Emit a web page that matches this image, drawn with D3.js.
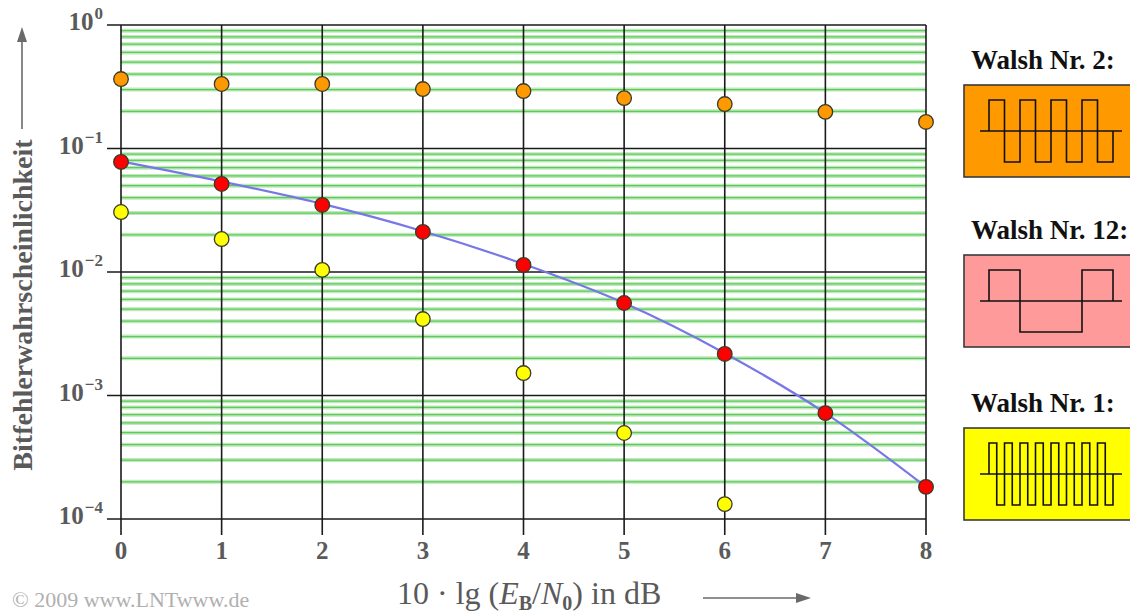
<!DOCTYPE html>
<html>
<head>
<meta charset="utf-8">
<script src="https://cdn.jsdelivr.net/npm/d3@7"></script>
<style>
  html, body { margin: 0; padding: 0; background: #fff; }
  svg { display: block; }
  text { font-family: "Liberation Serif", "DejaVu Serif", serif; }
</style>
</head>
<body>
<svg id="chart" width="1130" height="613"></svg>
<script>
// Eb/N0 in dB
const snrDb = [0, 1, 2, 3, 4, 5, 6, 7, 8];
// Bit error probability for each spreading sequence
const berWalsh2  = [0.365, 0.333, 0.333, 0.303, 0.292, 0.256, 0.229, 0.198, 0.164];
const berWalsh12 = [0.0778, 0.0516, 0.0349, 0.0211, 0.0114, 0.00561, 0.00217, 0.00072, 0.000182];
const berWalsh1  = [0.0306, 0.0185, 0.0104, 0.00416, 0.00152, 0.000497, 0.000132];
// Reference curve (AWGN without interference)
const berTheory  = [0.0786, 0.0540, 0.0356, 0.0214, 0.0116, 0.0056, 0.0022, 0.00072, 0.000182];
// Axis ticks
const xTicks = [0, 1, 2, 3, 4, 5, 6, 7, 8];
const yDecades = [0, -1, -2, -3, -4];
// Chip sequences shown in the legend
const chipsWalsh2  = [1, -1, 1, -1, 1, -1, 1, -1];
const chipsWalsh12 = [1, 1, -1, -1, -1, -1, 1, 1];
const chipsWalsh1  = [1, -1, 1, -1, 1, -1, 1, -1, 1, -1, 1, -1, 1, -1, 1, -1];

const svg = d3.select("#chart");
const x = d3.scaleLinear().domain([0, 8]).range([121, 926]);
const y = d3.scaleLog().domain([1e-4, 1]).range([519, 25]);

const gridG = svg.append("g");

// Minor (green) grid lines
const minor = [];
for (let k = -4; k < 0; k++) for (let m = 2; m <= 9; m++) minor.push(m * Math.pow(10, k));
gridG.selectAll("line.halo").data(minor).join("line")
  .attr("x1", x(0)).attr("x2", x(8))
  .attr("y1", d => y(d)).attr("y2", d => y(d))
  .attr("stroke", "#bfe9bb").attr("stroke-width", 4);
gridG.selectAll("line.minor").data(minor).join("line")
  .attr("x1", x(0)).attr("x2", x(8))
  .attr("y1", d => y(d)).attr("y2", d => y(d))
  .attr("stroke", "#5ccb5c").attr("stroke-width", 1.3);

// Decade lines with tick stubs to the left
gridG.selectAll("line.dec").data(yDecades).join("line")
  .attr("x1", x(0) - 14).attr("x2", x(8))
  .attr("y1", d => y(Math.pow(10, d))).attr("y2", d => y(Math.pow(10, d)))
  .attr("stroke", "#1a1a1a").attr("stroke-width", 1.6);

// Vertical lines with tick stubs below
gridG.selectAll("line.vert").data(xTicks).join("line")
  .attr("x1", d => x(d)).attr("x2", d => x(d))
  .attr("y1", y(1)).attr("y2", y(1e-4) + 16)
  .attr("stroke", "#1a1a1a").attr("stroke-width", 1.6);

// Y tick labels 10^k
const yl = svg.append("g").attr("fill", "#5a5a5a").attr("font-weight", "bold");
yDecades.forEach(k => {
  const t = yl.append("text")
    .attr("x", 103).attr("y", y(Math.pow(10, k)) + 5)
    .attr("text-anchor", "end").attr("font-size", 25);
  t.append("tspan").text("10");
  t.append("tspan").attr("dy", -11).attr("dx", 1).attr("font-size", 17).text(k === 0 ? "0" : "\u2212" + Math.abs(k));
});

// X tick labels
svg.append("g").selectAll("text").data(xTicks).join("text")
  .attr("x", d => x(d)).attr("y", 559)
  .attr("text-anchor", "middle").attr("font-size", 25).attr("font-weight", "bold")
  .attr("fill", "#5a5a5a").text(d => d);

// Reference curve
const curve = d3.line()
  .x((d, i) => x(snrDb[i]))
  .y(d => y(d))
  .curve(d3.curveMonotoneX);
svg.append("path").datum(berTheory)
  .attr("d", curve).attr("fill", "none")
  .attr("stroke", "#7777e6").attr("stroke-width", 2.2);

// Measured points
function dots(data, color) {
  svg.append("g").selectAll("circle").data(data).join("circle")
    .attr("cx", (d, i) => x(snrDb[i])).attr("cy", d => y(d)).attr("r", 7.3)
    .attr("fill", color).attr("stroke", "#3a3a2a").attr("stroke-width", 1.3);
}
dots(berWalsh2, "#ff9900");
dots(berWalsh12, "#ff0000");
dots(berWalsh1, "#ffff00");

// Y axis title and arrow
svg.append("text")
  .attr("transform", "translate(32,305) rotate(-90)")
  .attr("text-anchor", "middle").attr("font-size", 28).attr("font-weight", "bold")
  .attr("fill", "#5a5a5a").text("Bitfehlerwahrscheinlichkeit");
svg.append("line").attr("x1", 22).attr("x2", 22).attr("y1", 129).attr("y2", 40)
  .attr("stroke", "#6a6a6a").attr("stroke-width", 1.6);
svg.append("path").attr("d", "M22,27 L17,42 L27,42 Z").attr("fill", "#6a6a6a");

// X axis title and arrow
const xt = svg.append("text").attr("x", 397).attr("y", 604)
  .attr("font-size", 32).attr("fill", "#5a5a5a");
xt.append("tspan").text("10 \u00b7 lg (");
xt.append("tspan").attr("font-style", "italic").text("E");
xt.append("tspan").attr("font-size", 20).attr("font-weight", "bold").attr("dy", 6).text("B");
xt.append("tspan").attr("dy", -6).text("/");
xt.append("tspan").attr("font-style", "italic").text("N");
xt.append("tspan").attr("font-size", 20).attr("font-weight", "bold").attr("dy", 6).text("0");
xt.append("tspan").attr("dy", -6).text(") in dB");
svg.append("line").attr("x1", 703).attr("x2", 798).attr("y1", 598).attr("y2", 598)
  .attr("stroke", "#6a6a6a").attr("stroke-width", 1.6);
svg.append("path").attr("d", "M811,598 L796,593 L796,603 Z").attr("fill", "#6a6a6a");

// Copyright
svg.append("text").attr("x", 12).attr("y", 607).attr("font-size", 22)
  .attr("fill", "#b0b0b0").text("\u00a9 2009 www.LNTwww.de");

// Legend: spreading sequences
const legend = [
  { title: "Walsh Nr. 2:",  fill: "#ff9900", chips: chipsWalsh2,  ty: 69,  top: 85 },
  { title: "Walsh Nr. 12:", fill: "#ff9a9a", chips: chipsWalsh12, ty: 239, top: 255 },
  { title: "Walsh Nr. 1:",  fill: "#ffff00", chips: chipsWalsh1,  ty: 412, top: 428 }
];
legend.forEach(L => {
  const g = svg.append("g");
  g.append("text").attr("x", 971).attr("y", L.ty).attr("font-size", 27)
    .attr("font-weight", "bold").attr("fill", "#111").text(L.title);
  g.append("rect").attr("x", 964).attr("y", L.top).attr("width", 180).attr("height", 92)
    .attr("fill", L.fill).attr("stroke", "#3a3a3a").attr("stroke-width", 1.6);
  const mid = L.top + 46;
  const amp = 31;
  const n = L.chips.length;
  const cx = d3.scaleLinear().domain([0, n]).range([989, 1113]);
  g.append("line").attr("x1", 980).attr("x2", 1122).attr("y1", mid).attr("y2", mid)
    .attr("stroke", "#111").attr("stroke-width", 1.6);
  const pts = [[0, 0]].concat(L.chips.map((c, i) => [i, c]), [[n, L.chips[n - 1]], [n, 0]]);
  const step = d3.line().x(p => cx(p[0])).y(p => mid - p[1] * amp).curve(d3.curveStepAfter);
  g.append("path").attr("d", step(pts)).attr("fill", "none")
    .attr("stroke", "#111").attr("stroke-width", 1.6);
});
</script>
</body>
</html>
